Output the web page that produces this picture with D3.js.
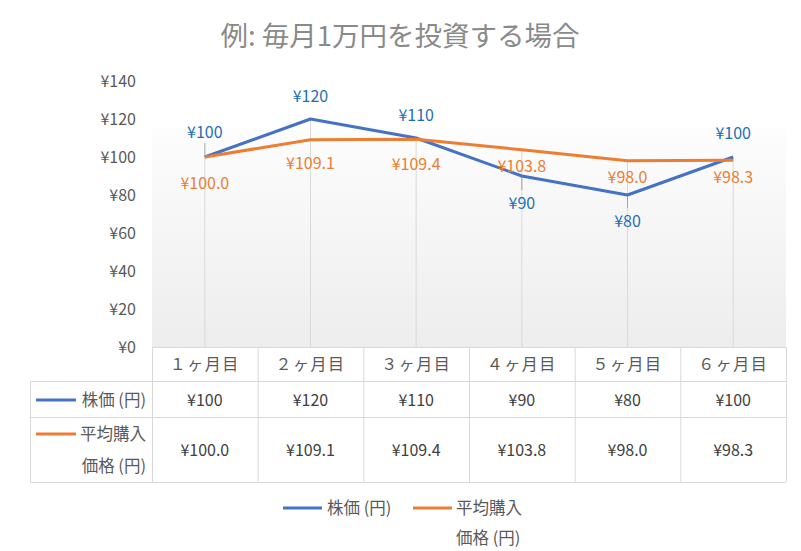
<!DOCTYPE html>
<html><head><meta charset="utf-8">
<script src="https://cdn.jsdelivr.net/npm/d3@7"></script>
<style>
body{margin:0;background:#fff;}
text{font-family:"Noto Sans CJK JP","Noto Sans",sans-serif;}
</style></head>
<body><svg id="c" width="801" height="551"></svg>
<script>
const title = "例: 毎月1万円を投資する場合";
const categories = ["１ヶ月目","２ヶ月目","３ヶ月目","４ヶ月目","５ヶ月目","６ヶ月目"];
const seriesNames = [["株価 (円)"],["平均購入","価格 (円)"]];
const stockPrice = [100,120,110,90,80,100];
const avgPrice = [100.0,109.1,109.4,103.8,98.0,98.3];
const yTicks = [0,20,40,60,80,100,120,140];

// label placement (layout only)
const stockLabelDy = [-25,-23,-23,27,26,-24];
const avgLabelDy = [26,24,25,17,17,17];
const leaderLines = [[0,-14,0],[3,0,14],[4,0,13]];

const colors = {stock:"#4472c4", avg:"#ed7d31", stockLbl:"#1f6fb5", avgLbl:"#ed7d31"};
const svg = d3.select("#c");
const L=152, R=786, T=81, B=347;
const x = d3.scaleBand().domain(categories).range([L,R]);
const y = d3.scaleLinear().domain([0,140]).range([B,T]);
const cx = c => x(c)+x.bandwidth()/2;
const numSize = 16, lblSize = 16.5;

svg.append("text").attr("x",400).attr("y",46).attr("text-anchor","middle")
  .attr("font-size",27.5).attr("fill","#8a8a8a").text(title);

const defs = svg.append("defs");
const g = defs.append("linearGradient").attr("id","bg").attr("x1",0).attr("y1",0).attr("x2",0).attr("y2",1);
g.append("stop").attr("offset","0%").attr("stop-color","#fdfdfd");
g.append("stop").attr("offset","100%").attr("stop-color","#ededed");
svg.append("rect").attr("x",L).attr("y",127).attr("width",R-L).attr("height",B-127).attr("fill","url(#bg)");

const yAxis = d3.axisLeft(y).tickValues(yTicks).tickFormat(d=>"¥"+d).tickSize(0).tickPadding(0);
const ya = svg.append("g").attr("transform","translate(136,0)").call(yAxis);
ya.select(".domain").remove();
ya.selectAll("text").attr("font-size",numSize).attr("fill","#595959").style("font-family","'Noto Sans CJK JP'");

svg.append("g").selectAll("line").data(categories).join("line")
  .attr("x1",cx).attr("x2",cx)
  .attr("y1",(c,i)=>y(Math.max(stockPrice[i],avgPrice[i]))).attr("y2",B)
  .attr("stroke","#d9d9d9").attr("stroke-width",1);
svg.append("g").selectAll("line").data(leaderLines).join("line")
  .attr("x1",d=>cx(categories[d[0]])).attr("x2",d=>cx(categories[d[0]]))
  .attr("y1",d=>y(stockPrice[d[0]])+d[1]).attr("y2",d=>y(stockPrice[d[0]])+d[2])
  .attr("stroke","#a6a6a6").attr("stroke-width",1);

const line = d3.line().x((d,i)=>cx(categories[i])).y(d=>y(d));
svg.append("path").datum(stockPrice).attr("d",line).attr("fill","none")
  .attr("stroke",colors.stock).attr("stroke-width",3).attr("stroke-linejoin","round");
svg.append("path").datum(avgPrice).attr("d",line).attr("fill","none")
  .attr("stroke",colors.avg).attr("stroke-width",3).attr("stroke-linejoin","round");

svg.append("g").selectAll("text").data(stockPrice).join("text")
  .attr("x",(d,i)=>cx(categories[i])).attr("y",(d,i)=>y(d)+stockLabelDy[i])
  .attr("dy","0.35em").attr("text-anchor","middle").attr("font-size",numSize)
  .attr("fill",colors.stockLbl).text(d=>"¥"+d);
svg.append("g").selectAll("text").data(avgPrice).join("text")
  .attr("x",(d,i)=>cx(categories[i])).attr("y",(d,i)=>y(d)+avgLabelDy[i])
  .attr("dy","0.35em").attr("text-anchor","middle").attr("font-size",numSize)
  .attr("fill",colors.avgLbl).text(d=>"¥"+d.toFixed(1));

const tb = svg.append("g");
const rowY = [347,381,417,482];
const bc = "#d9d9d9";
const tl = 30;
tb.append("line").attr("x1",L).attr("x2",R).attr("y1",rowY[0]+0.5).attr("y2",rowY[0]+0.5).attr("stroke",bc);
[1,2,3].forEach(k=>tb.append("line").attr("x1",tl).attr("x2",R).attr("y1",rowY[k]+0.5).attr("y2",rowY[k]+0.5).attr("stroke",bc));
tb.append("line").attr("x1",tl+0.5).attr("x2",tl+0.5).attr("y1",rowY[1]).attr("y2",rowY[3]).attr("stroke",bc);
categories.forEach(c=>{
  tb.append("line").attr("x1",x(c)+0.5).attr("x2",x(c)+0.5).attr("y1",rowY[0]).attr("y2",rowY[3]).attr("stroke",bc);
});
tb.append("line").attr("x1",R+0.5).attr("x2",R+0.5).attr("y1",rowY[0]).attr("y2",rowY[3]).attr("stroke",bc);
tb.selectAll("text.h").data(categories).join("text").attr("class","h")
  .attr("x",cx).attr("y",364).attr("dy","0.35em").attr("text-anchor","middle")
  .attr("font-size",16).attr("letter-spacing",1.5).attr("fill","#595959").text(d=>d);
tb.selectAll("text.s").data(stockPrice).join("text").attr("class","s")
  .attr("x",(d,i)=>cx(categories[i])).attr("y",400).attr("dy","0.35em").attr("text-anchor","middle")
  .attr("font-size",numSize).attr("fill","#404040").text(d=>"¥"+d);
tb.selectAll("text.a").data(avgPrice).join("text").attr("class","a")
  .attr("x",(d,i)=>cx(categories[i])).attr("y",450).attr("dy","0.35em").attr("text-anchor","middle")
  .attr("font-size",numSize).attr("fill","#404040").text(d=>"¥"+d.toFixed(1));
tb.append("line").attr("x1",36).attr("x2",76).attr("y1",400).attr("y2",400).attr("stroke",colors.stock).attr("stroke-width",3);
tb.append("text").attr("x",146).attr("y",400).attr("dy","0.35em").attr("text-anchor","end")
  .attr("font-size",lblSize).attr("fill","#595959").text(seriesNames[0][0]);
tb.append("line").attr("x1",36).attr("x2",76).attr("y1",434).attr("y2",434).attr("stroke",colors.avg).attr("stroke-width",3);
tb.append("text").attr("x",146).attr("y",434).attr("dy","0.35em").attr("text-anchor","end")
  .attr("font-size",lblSize).attr("fill","#595959").text(seriesNames[1][0]);
tb.append("text").attr("x",146).attr("y",466).attr("dy","0.35em").attr("text-anchor","end")
  .attr("font-size",lblSize).attr("fill","#595959").text(seriesNames[1][1]);

const lg = svg.append("g");
lg.append("line").attr("x1",283).attr("x2",322).attr("y1",508).attr("y2",508).attr("stroke",colors.stock).attr("stroke-width",3);
lg.append("text").attr("x",327).attr("y",508).attr("dy","0.35em").attr("font-size",lblSize).attr("fill","#595959").text(seriesNames[0][0]);
lg.append("line").attr("x1",413).attr("x2",452).attr("y1",508).attr("y2",508).attr("stroke",colors.avg).attr("stroke-width",3);
lg.append("text").attr("x",456).attr("y",508).attr("dy","0.35em").attr("font-size",lblSize).attr("fill","#595959").text(seriesNames[1][0]);
lg.append("text").attr("x",456).attr("y",538).attr("dy","0.35em").attr("font-size",lblSize).attr("fill","#595959").text(seriesNames[1][1]);
</script></body></html>
